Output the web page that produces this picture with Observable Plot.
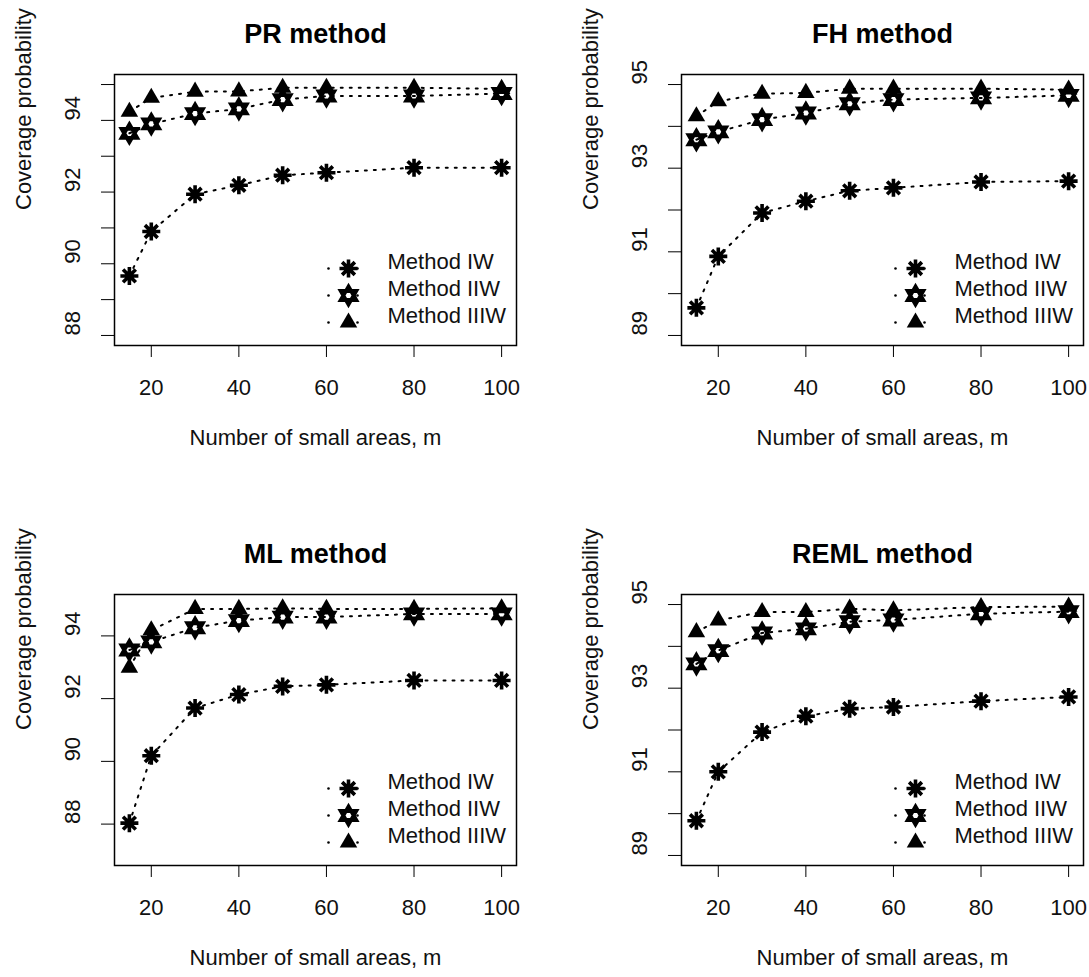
<!DOCTYPE html>
<html><head><meta charset="utf-8">
<script src="https://cdn.jsdelivr.net/npm/d3@7"></script>
<script src="https://cdn.jsdelivr.net/npm/@observablehq/plot@0.6"></script>
<style>
body{margin:0;background:#fff;}
#wrap{position:relative;width:1089px;height:977px;background:#fff;overflow:hidden;}
.panel{position:absolute;}
</style></head><body><div id="wrap"></div>
<script>
// ---- data ----
const m = [15, 20, 30, 40, 50, 60, 80, 100];
const xTicks = [20, 40, 60, 80, 100];
const seriesNames = ["Method IW", "Method IIW", "Method IIIW"];
const panelTitles = ["PR method", "FH method", "ML method", "REML method"];
const xLabel = "Number of small areas, m";
const yLabel = "Coverage probability";

const prIW   = [89.66, 90.90, 91.94, 92.19, 92.47, 92.54, 92.68, 92.68];
const prIIW  = [93.64, 93.90, 94.19, 94.32, 94.58, 94.68, 94.68, 94.75];
const prIIIW = [94.24, 94.63, 94.80, 94.81, 94.91, 94.91, 94.91, 94.88];

const fhIW   = [89.66, 90.89, 91.93, 92.21, 92.46, 92.53, 92.67, 92.69];
const fhIIW  = [93.68, 93.87, 94.16, 94.32, 94.54, 94.64, 94.68, 94.74];
const fhIIIW = [94.24, 94.60, 94.78, 94.80, 94.90, 94.90, 94.90, 94.88];

const mlIW   = [88.03, 90.18, 91.70, 92.13, 92.39, 92.44, 92.58, 92.58];
const mlIIW  = [93.55, 93.81, 94.26, 94.49, 94.60, 94.60, 94.70, 94.70];
const mlIIIW = [92.99, 94.18, 94.86, 94.86, 94.88, 94.86, 94.86, 94.88];

const remlIW   = [89.83, 91.00, 91.95, 92.33, 92.51, 92.55, 92.69, 92.79];
const remlIIW  = [93.58, 93.90, 94.32, 94.42, 94.59, 94.63, 94.78, 94.83];
const remlIIIW = [94.34, 94.62, 94.82, 94.82, 94.90, 94.86, 94.94, 94.95];

const ylimPR = [88, 95], ylimFH = [89, 95], ylimML = [87, 95], ylimREML = [89, 95];
const yTicksPR = [88, 89, 90, 91, 92, 93, 94, 95], yLabelsPR = [88, 90, 92, 94];
const yTicksFH = [89, 90, 91, 92, 93, 94, 95], yLabelsFH = [89, 91, 93, 95];
const yTicksML = [88, 90, 92, 94], yLabelsML = [88, 90, 92, 94];
const yTicksREML = [89, 90, 91, 92, 93, 94, 95], yLabelsREML = [89, 91, 93, 95];

// ---- symbols ----
const asterisk8 = {draw(ctx, size) {
  const r = Math.sqrt(size / Math.PI), d = r * Math.SQRT1_2;
  ctx.moveTo(-r, 0); ctx.lineTo(r, 0);
  ctx.moveTo(0, -r); ctx.lineTo(0, r);
  ctx.moveTo(-d, -d); ctx.lineTo(d, d);
  ctx.moveTo(-d, d); ctx.lineTo(d, -d);
}};
const hexagram = {draw(ctx, size) {
  const r = Math.sqrt(size / Math.PI);
  for (const base of [-Math.PI / 2, Math.PI / 2]) {
    for (let k = 0; k < 3; k++) {
      const a = base + k * 2 * Math.PI / 3;
      if (k === 0) ctx.moveTo(r * Math.cos(a), r * Math.sin(a));
      else ctx.lineTo(r * Math.cos(a), r * Math.sin(a));
    }
    ctx.closePath();
  }
}};
const symStyles = [
  {symbol: asterisk8, r: 9, fill: "none", stroke: "#000", strokeWidth: 3.6},
  {symbol: hexagram, r: 9, fill: "none", stroke: "#000", strokeWidth: 3.8},
  {symbol: "triangle", r: 6.5, fill: "#000", stroke: "none"}
];

const panels = [
  {title: panelTitles[0], series: [prIW, prIIW, prIIIW], ylim: ylimPR, yTicks: yTicksPR, yLabels: yLabelsPR, left: 0, top: 0, width: 544, mr: 28},
  {title: panelTitles[1], series: [fhIW, fhIIW, fhIIIW], ylim: ylimFH, yTicks: yTicksFH, yLabels: yLabelsFH, left: 567, top: 0, width: 522, mr: 6},
  {title: panelTitles[2], series: [mlIW, mlIIW, mlIIIW], ylim: ylimML, yTicks: yTicksML, yLabels: yLabelsML, left: 0, top: 520, width: 544, mr: 28},
  {title: panelTitles[3], series: [remlIW, remlIIW, remlIIIW], ylim: ylimREML, yTicks: yTicksREML, yLabels: yLabelsREML, left: 567, top: 520, width: 522, mr: 6}
];

const wrap = document.getElementById("wrap");
for (const p of panels) {
  const ye = (p.ylim[1] - p.ylim[0]) * 0.04;
  const x0 = d3.min(m), x1 = d3.max(m), xe = (x1 - x0) * 0.04;
  const marks = [];
  p.series.forEach(vals => {
    const d = m.map((x, j) => ({m: x, v: vals[j]}));
    marks.push(Plot.line(d, {x: "m", y: "v", stroke: "#000", strokeWidth: 2, strokeDasharray: "2,7"}));
  });
  p.series.forEach((vals, i) => {
    const d = m.map((x, j) => ({m: x, v: vals[j]}));
    marks.push(Plot.dot(d, {x: "m", y: "v", ...symStyles[i]}));
  });
  // legend
  seriesNames.forEach((name, i) => {
    const dy = -77 + i * 27;
    marks.push(Plot.dot([name], {frameAnchor: "bottom-right", dx: -188, dy, r: 1.3, fill: "#000", stroke: "none"}));
    marks.push(Plot.dot([name], {frameAnchor: "bottom-right", dx: -159, dy, r: 1.3, fill: "#000", stroke: "none"}));
    marks.push(Plot.dot([name], {frameAnchor: "bottom-right", dx: -168, dy, ...symStyles[i]}));
    marks.push(Plot.text([name], {text: d => d, frameAnchor: "bottom-right", dx: -129, dy, textAnchor: "start", fontSize: 22, fill: "#111"}));
  });
  marks.push(Plot.axisX({ticks: xTicks, tickSize: 12, tickPadding: 22, label: null, fontSize: 22, stroke: "#000", fill: "#111"}));
  marks.push(Plot.axisY({ticks: p.yTicks, tickSize: 13, tickFormat: () => "", label: null, stroke: "#000"}));
  marks.push(Plot.text(p.yLabels, {y: d => d, text: d => String(d), frameAnchor: "left", dx: -42, rotate: -90, fontSize: 22, fill: "#111"}));
  marks.push(Plot.text([yLabel], {text: d => d, frameAnchor: "left", dx: -91, rotate: -90, fontSize: 22, fill: "#111"}));
  marks.push(Plot.text([xLabel], {text: d => d, frameAnchor: "bottom", dy: 99, fontSize: 22, fill: "#111"}));
  marks.push(Plot.text([p.title], {text: d => d, frameAnchor: "top", dy: -51, fontSize: 27, fontWeight: "bold", fill: "#000"}));
  marks.push(Plot.frame({stroke: "#000", strokeWidth: 1.5}));

  const chart = Plot.plot({
    width: p.width, height: 457,
    marginLeft: 114, marginRight: p.mr, marginTop: 74, marginBottom: 112,
    x: {domain: [x0 - xe, x1 + xe]},
    y: {domain: [p.ylim[0] - ye, p.ylim[1] + ye]},
    style: {fontFamily: "'Liberation Sans', Arial, sans-serif", fontSize: "22px", background: "#fff", overflow: "visible", color: "#000"},
    marks
  });
  const div = document.createElement("div");
  div.className = "panel";
  div.style.left = p.left + "px";
  div.style.top = p.top + "px";
  div.appendChild(chart);
  wrap.appendChild(div);
}
</script></body></html>
